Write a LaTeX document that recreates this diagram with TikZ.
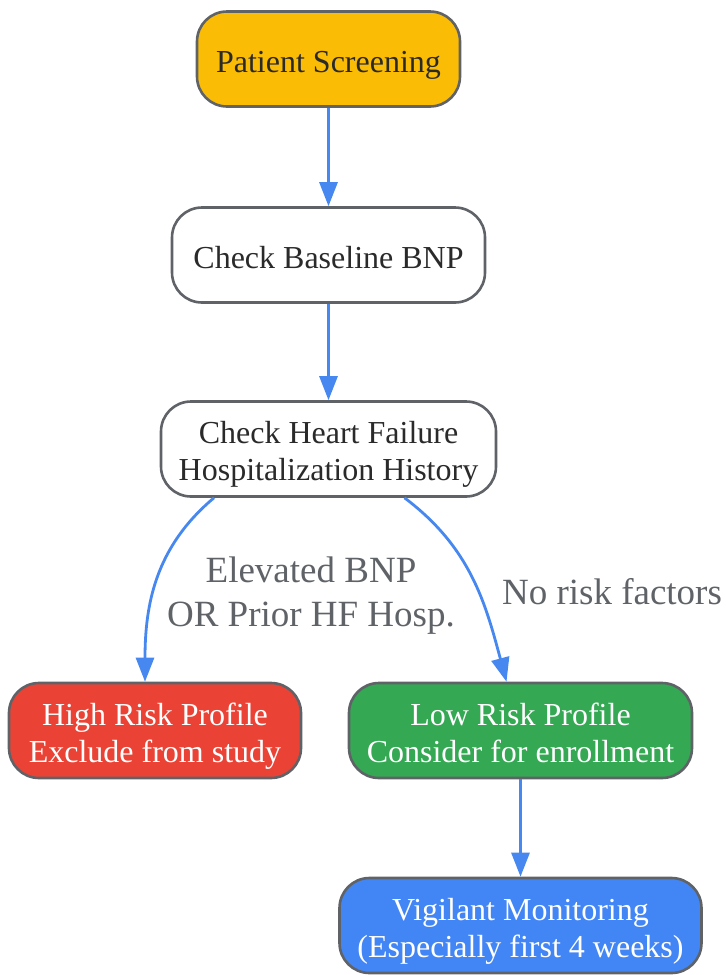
\documentclass[tikz,border=0pt]{standalone}
\usepackage{fontspec}
\setmainfont{Liberation Serif}
\usetikzlibrary{arrows.meta,positioning}
\definecolor{gYellow}{HTML}{FBBC05}
\definecolor{gRed}{HTML}{EA4335}
\definecolor{gGreen}{HTML}{34A853}
\definecolor{gBlue}{HTML}{4285F4}
\definecolor{edgeGray}{HTML}{5F6368}
\definecolor{textDark}{HTML}{2A2A2A}
\definecolor{flowBlue}{HTML}{4788F0}

\begin{document}
\begin{tikzpicture}
[x=0.5pt,y=0.5pt,node distance=50pt,
 box/.style={draw=edgeGray,line width=1.3pt,rounded corners=15pt,minimum height=47.5pt,
   inner xsep=0pt,text width=#1,align=flush center,text=textDark,
   font=\fontsize{16}{18.5}\selectfont,
   execute at begin node={\rule{0pt}{16.8pt}},
   execute at end node={\rule[-3.5pt]{0pt}{3.5pt}}},
 flow/.style={draw=flowBlue,line width=1.4pt,-{Triangle[length=12pt,width=9pt]}},
 cond/.style={text=edgeGray,inner xsep=0pt,align=flush center,
   font=\fontsize{18.5}{22}\selectfont,
   execute at begin node={\rule{0pt}{16.5pt}},
   execute at end node={\rule[-4pt]{0pt}{4pt}}}]
\useasboundingbox (0,0) rectangle (725,-975);
%% screening chain
\node[box=131.5pt,fill=gYellow] (screen) at (328.5,-59) {Patient Screening};
\node[box=156.5pt,fill=white,below=49.2pt of screen] (bnp) {Check Baseline BNP};
\node[box=167.5pt,fill=white,below=48.2pt of bnp] (hosp) {Check Heart Failure\\Hospitalization History};
%% outcomes
\node[box=146pt,fill=gRed,text=white] (high) at (155,-730.5) {High Risk Profile\\Exclude from study};
\node[box=171.5pt,fill=gGreen,text=white] (low) at (520.5,-730.5) {Low Risk Profile\\Consider for enrollment};
\node[box=181pt,fill=gBlue,text=white,below=48.7pt of low] (watch) {Vigilant Monitoring\\(Especially first 4 weeks)};
%% labels
\node[cond,text width=160pt] (risky) at (311,-592) {Elevated BNP\\OR Prior HF Hosp.};
\node[cond] (clear) at (612,-592) {No risk factors};
%% edges
\draw[flow] (screen) -- (bnp);
\draw[flow] (bnp) -- (hosp);
\draw[flow] ([xshift=-57.25pt]hosp.south) to[out=220,in=90] ([xshift=-5pt]high.north);
\draw[flow] ([xshift=38pt]hosp.south) to[out=-37,in=105] ([xshift=-7pt]low.north);
\draw[flow] (low) -- (watch);
\end{tikzpicture}
\end{document}
